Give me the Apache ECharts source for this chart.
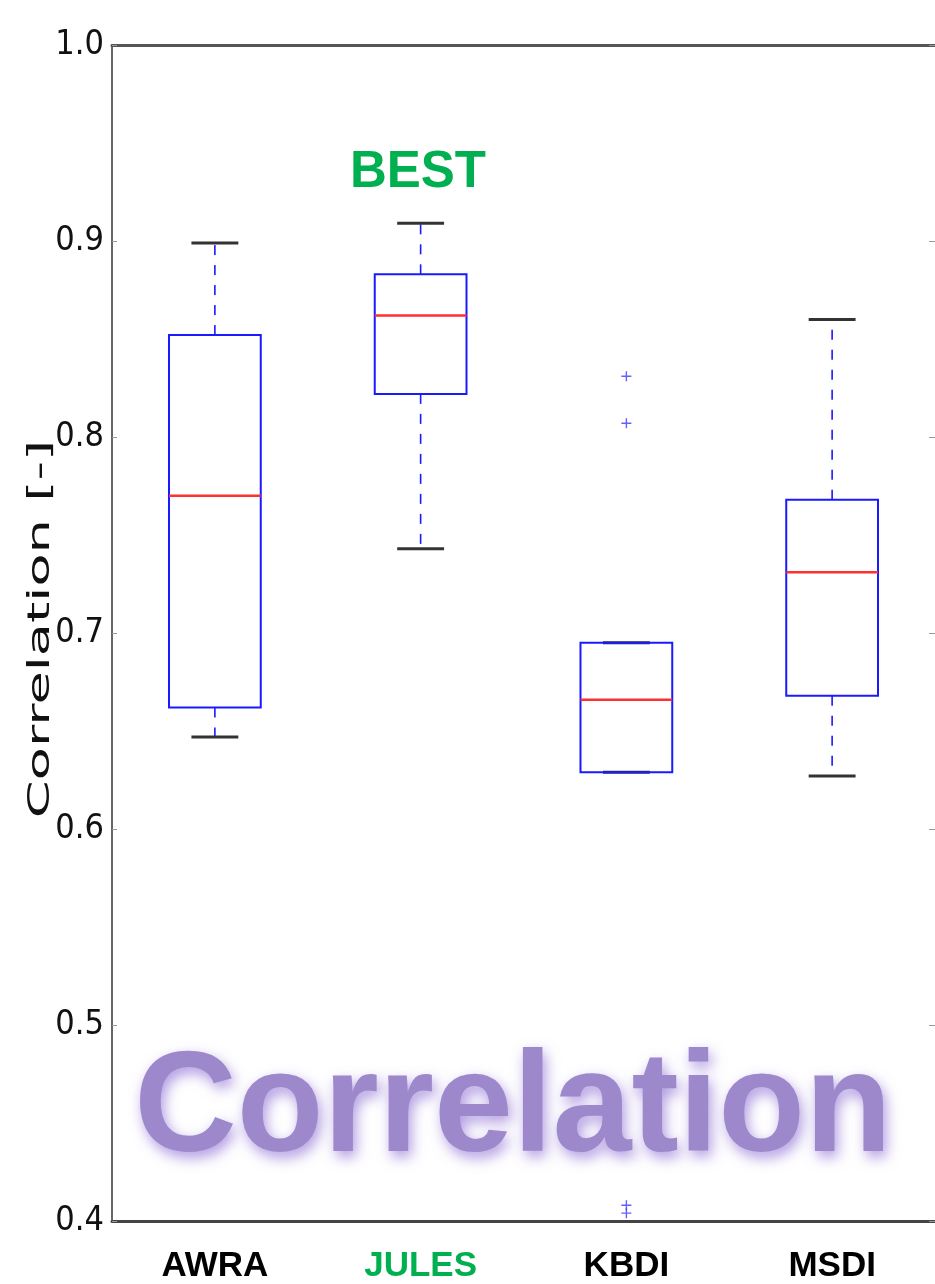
<!DOCTYPE html>
<html>
<head>
<meta charset="utf-8">
<script src="https://cdn.jsdelivr.net/npm/echarts@6/dist/echarts.min.js"></script>
<style>
  html, body { margin: 0; padding: 0; background: #fff; }
  #chart { width: 935px; height: 1284px; }
</style>
</head>
<body>
<div id="chart"></div>
<script>
const categories = ['AWRA', 'JULES', 'KBDI', 'MSDI'];
// [min, q1, median, q3, max]
const boxValues = [
  [0.647, 0.662, 0.770, 0.852, 0.899],
  [0.743, 0.822, 0.862, 0.883, 0.909],
  [0.629, 0.629, 0.666, 0.695, 0.695],
  [0.627, 0.668, 0.731, 0.768, 0.860]
];
// [category index, value]
const outliers = [
  [2, 0.831],
  [2, 0.807],
  [2, 0.408],
  [2, 0.404]
];
const yTicks = [0.4, 0.5, 0.6, 0.7, 0.8, 0.9, 1.0];

const chart = echarts.init(document.getElementById('chart'));

const boxData = boxValues.map((v, i) => [i].concat(v));

function renderBox(params, api) {
  const idx = api.value(0);
  const pMin = api.coord([idx, api.value(1)]);
  const pQ1 = api.coord([idx, api.value(2)]);
  const pMed = api.coord([idx, api.value(3)]);
  const pQ3 = api.coord([idx, api.value(4)]);
  const pMax = api.coord([idx, api.value(5)]);
  const band = api.size([1, 0])[0];
  const half = band * 0.223;
  const capHalf = band * 0.114;
  const x = pMed[0];
  const dashed = { stroke: '#1a1aff', lineWidth: 1.6, lineDash: [10, 10] };
  const cap = { stroke: '#333', lineWidth: 3 };
  return {
    type: 'group',
    children: [
      { type: 'line', shape: { x1: x, y1: pQ3[1], x2: x, y2: pMax[1] }, style: dashed },
      { type: 'line', shape: { x1: x, y1: pQ1[1], x2: x, y2: pMin[1] }, style: dashed },
      { type: 'line', shape: { x1: x - capHalf, y1: pMax[1], x2: x + capHalf, y2: pMax[1] }, style: cap },
      { type: 'line', shape: { x1: x - capHalf, y1: pMin[1], x2: x + capHalf, y2: pMin[1] }, style: cap },
      { type: 'rect', shape: { x: x - half, y: pQ3[1], width: half * 2, height: pQ1[1] - pQ3[1] },
        style: { fill: 'none', stroke: '#1a1aff', lineWidth: 2 } },
      { type: 'line', shape: { x1: x - half, y1: pMed[1], x2: x + half, y2: pMed[1] },
        style: { stroke: '#ff3030', lineWidth: 2.5 } }
    ]
  };
}

const option = {
  backgroundColor: '#fff',
  animation: false,
  grid: { left: 112, right: -2, top: 45, bottom: 62 },
  xAxis: [
    {
      type: 'category',
      data: categories,
      boundaryGap: true,
      position: 'bottom',
      axisLine: { lineStyle: { color: '#444', width: 3 } },
      axisTick: { inside: true, length: 10, alignWithLabel: true, lineStyle: { color: '#777' } },
      axisLabel: {
        margin: 28,
        formatter: v => v === 'JULES' ? '{g|' + v + '}' : '{k|' + v + '}',
        rich: {
          k: { color: '#000', fontSize: 35, fontWeight: 'bold', fontFamily: 'Liberation Sans' },
          g: { color: '#00b050', fontSize: 35, fontWeight: 'bold', fontFamily: 'Liberation Sans' }
        }
      },
      splitLine: { show: false }
    },
    {
      type: 'category',
      data: categories,
      position: 'top',
      axisLine: { lineStyle: { color: '#555', width: 3 } },
      axisTick: { inside: true, length: 10, alignWithLabel: true, lineStyle: { color: '#777' } },
      axisLabel: { show: false }
    }
  ],
  yAxis: [
    {
      type: 'value',
      min: 0.4,
      max: 1.0,
      interval: 0.1,
      position: 'left',
      axisLine: { show: true, lineStyle: { color: '#666', width: 2 } },
      axisTick: { show: true, inside: true, length: 5, lineStyle: { color: '#999' } },
      axisLabel: {
        margin: 8,
        color: '#111',
        fontSize: 34,
        fontFamily: '"DejaVu Sans Condensed", "Liberation Sans Narrow", sans-serif',
        formatter: v => yTicks.find(t => Math.abs(t - v) < 1e-6).toFixed(1)
      },
      splitLine: { show: false }
    },
    {
      type: 'value',
      min: 0.4,
      max: 1.0,
      interval: 0.1,
      position: 'right',
      axisLine: { show: false },
      axisTick: { show: true, inside: true, length: 6, lineStyle: { color: '#999' } },
      axisLabel: { show: false },
      splitLine: { show: false }
    }
  ],
  graphic: [
    {
      type: 'text',
      x: 513,
      y: 1112,
      z: 1,
      style: {
        text: 'Correlation',
        font: 'bold 142px "Liberation Sans", Arial, sans-serif',
        fill: '#9c88cb',
        align: 'center',
        verticalAlign: 'middle',
        textShadowColor: 'rgba(110, 70, 200, 0.55)',
        textShadowBlur: 14,
        textShadowOffsetX: 3,
        textShadowOffsetY: 6
      }
    },
    {
      type: 'text',
      x: 418,
      y: 173,
      style: {
        text: 'BEST',
        font: 'bold 51px "Liberation Sans", Arial, sans-serif',
        fill: '#00b050',
        align: 'center',
        verticalAlign: 'middle'
      }
    },
    {
      type: 'text',
      x: 41,
      y: 629,
      rotation: Math.PI / 2,
      scaleX: 1.75,
      style: {
        text: 'Correlation [-]',
        font: '31px "DejaVu Sans", sans-serif',
        fill: '#111',
        align: 'center',
        verticalAlign: 'middle'
      }
    }
  ],
  series: [
    {
      type: 'custom',
      name: 'Correlation',
      xAxisIndex: 0,
      yAxisIndex: 0,
      renderItem: renderBox,
      encode: { x: 0, y: [1, 2, 3, 4, 5] },
      data: boxData,
      z: 3
    },
    {
      type: 'scatter',
      name: 'Outliers',
      xAxisIndex: 0,
      yAxisIndex: 0,
      symbol: 'path://M4.3,0H5.7V10H4.3Z M0,4.3H10V5.7H0Z',
      symbolSize: 10,
      itemStyle: { color: '#3a3aff' },
      data: outliers,
      z: 3
    }
  ]
};

chart.setOption(option);
</script>
</body>
</html>
